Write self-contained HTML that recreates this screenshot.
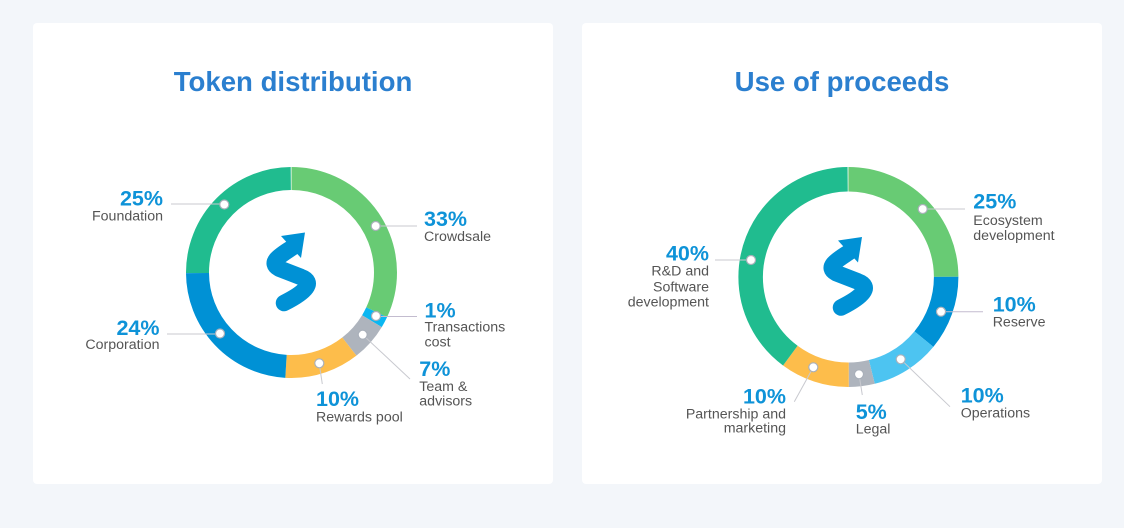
<!DOCTYPE html>
<html>
<head>
<meta charset="utf-8">
<style>
  html,body{margin:0;padding:0;background:#F3F6FA;}
  svg{display:block;}
  .ttl{font-family:"Liberation Sans",Arial,sans-serif;font-weight:bold;font-size:27.6px;fill:#2B7FCF;}
  .pct{font-family:"Liberation Sans",Arial,sans-serif;font-weight:bold;font-size:21.5px;fill:#0E93D8;}
  .lbl{font-family:"Liberation Sans",Arial,sans-serif;font-size:14.2px;fill:#555555;}
  .ln{stroke:#c8c9cf;stroke-width:1;fill:none;}
  .mk{fill:#fff;stroke:#a9b0ba;stroke-width:1.2;}
</style>
</head>
<body>
<svg width="1124" height="528" viewBox="0 0 1124 528" xmlns="http://www.w3.org/2000/svg">
  <rect x="0" y="0" width="1124" height="528" fill="#F3F6FA"/>
  <!-- cards -->
  <rect x="33" y="23" width="520" height="461" rx="4" fill="#ffffff"/>
  <rect x="582" y="23" width="520" height="461" rx="4" fill="#ffffff"/>

  <!-- titles -->
  <text class="ttl" x="293" y="91" text-anchor="middle">Token distribution</text>
  <text class="ttl" x="842" y="91" text-anchor="middle">Use of proceeds</text>

  <!-- LEFT DONUT -->
  <g transform="rotate(-90 291.5 272.5)" fill="none" stroke-width="23">
    <circle cx="291.5" cy="272.5" r="94" pathLength="100" stroke="#68CB74" stroke-dasharray="32 100" stroke-dashoffset="0"/>
    <circle cx="291.5" cy="272.5" r="94" pathLength="100" stroke="#0BB7F1" stroke-dasharray="1.7 100" stroke-dashoffset="-32"/>
    <circle cx="291.5" cy="272.5" r="94" pathLength="100" stroke="#AEB4BD" stroke-dasharray="5.8 100" stroke-dashoffset="-33.7"/>
    <circle cx="291.5" cy="272.5" r="94" pathLength="100" stroke="#FDBD4B" stroke-dasharray="11.5 100" stroke-dashoffset="-39.5"/>
    <circle cx="291.5" cy="272.5" r="94" pathLength="100" stroke="#0091D5" stroke-dasharray="24 100" stroke-dashoffset="-51"/>
    <circle cx="291.5" cy="272.5" r="94" pathLength="100" stroke="#20BC8F" stroke-dasharray="25 100" stroke-dashoffset="-75"/>
  </g>

  <!-- left logo -->
  <g>
    <path d="M293 247 C 283 254, 267 262, 279 268.5 L 301 277 C 315 282, 306 292, 284 303" fill="none" stroke="#0091D5" stroke-width="16.5" stroke-linecap="round" stroke-linejoin="round"/>
    <polygon points="281,236 305,232.5 301,258" fill="#0091D5"/>
  </g>

  <!-- left leader lines -->
  <line class="ln" x1="171" y1="204" x2="224" y2="204"/>
  <line class="ln" x1="167" y1="334" x2="220" y2="334"/>
  <line class="ln" x1="376" y1="226" x2="417" y2="226"/>
  <line class="ln" x1="376" y1="316.5" x2="417" y2="316.5" style="stroke:#c3bccf"/>
  <line class="ln" x1="362.7" y1="334.7" x2="410" y2="379"/>
  <line class="ln" x1="319.3" y1="364" x2="322.3" y2="384"/>

  <!-- left markers -->
  <circle class="mk" cx="224.3" cy="204.5" r="4.5"/>
  <circle class="mk" cx="375.7" cy="226" r="4.5"/>
  <circle class="mk" cx="376" cy="316" r="4.5"/>
  <circle class="mk" cx="362.7" cy="334.7" r="4.5"/>
  <circle class="mk" cx="319.3" cy="363.3" r="4.5"/>
  <circle class="mk" cx="220" cy="333.5" r="4.5"/>

  <!-- left labels -->
  <text class="pct" x="163" y="205.7" text-anchor="end">25%</text>
  <text class="lbl" x="163" y="220.7" text-anchor="end">Foundation</text>

  <text class="pct" x="159.5" y="335" text-anchor="end">24%</text>
  <text class="lbl" x="159.5" y="349" text-anchor="end">Corporation</text>

  <text class="pct" x="424" y="226">33%</text>
  <text class="lbl" x="424" y="241">Crowdsale</text>

  <text class="pct" x="424.5" y="317.3">1%</text>
  <text class="lbl" x="424.5" y="331.7">Transactions</text>
  <text class="lbl" x="424.5" y="346.7">cost</text>

  <text class="pct" x="419.3" y="376">7%</text>
  <text class="lbl" x="419.3" y="391">Team &amp;</text>
  <text class="lbl" x="419.3" y="405.5">advisors</text>

  <text class="pct" x="316" y="406">10%</text>
  <text class="lbl" x="316" y="421.7">Rewards pool</text>

  <!-- RIGHT DONUT -->
  <g transform="rotate(-90 848.4 277)" fill="none" stroke-width="24.5">
    <circle cx="848.4" cy="277" r="97.75" pathLength="100" stroke="#68CB74" stroke-dasharray="25 100" stroke-dashoffset="0"/>
    <circle cx="848.4" cy="277" r="97.75" pathLength="100" stroke="#0091D5" stroke-dasharray="11 100" stroke-dashoffset="-25"/>
    <circle cx="848.4" cy="277" r="97.75" pathLength="100" stroke="#4DC4F1" stroke-dasharray="10.2 100" stroke-dashoffset="-36"/>
    <circle cx="848.4" cy="277" r="97.75" pathLength="100" stroke="#AEB4BD" stroke-dasharray="3.8 100" stroke-dashoffset="-46.2"/>
    <circle cx="848.4" cy="277" r="97.75" pathLength="100" stroke="#FDBD4B" stroke-dasharray="10.2 100" stroke-dashoffset="-50"/>
    <circle cx="848.4" cy="277" r="97.75" pathLength="100" stroke="#20BC8F" stroke-dasharray="39.8 100" stroke-dashoffset="-60.2"/>
  </g>

  <!-- right logo -->
  <g transform="translate(557 4.5)">
    <path d="M293 247 C 283 254, 267 262, 279 268.5 L 301 277 C 315 282, 306 292, 284 303" fill="none" stroke="#0091D5" stroke-width="16.5" stroke-linecap="round" stroke-linejoin="round"/>
    <polygon points="281,236 305,232.5 301,258" fill="#0091D5"/>
  </g>

  <!-- right leader lines -->
  <line class="ln" x1="922.7" y1="209" x2="965" y2="209"/>
  <line class="ln" x1="941" y1="311.7" x2="983" y2="311.7" style="stroke:#c3bccf"/>
  <line class="ln" x1="900.7" y1="359.3" x2="950" y2="406.7"/>
  <line class="ln" x1="715" y1="260" x2="751" y2="260"/>
  <line class="ln" x1="813.3" y1="367.3" x2="794.3" y2="401.7"/>
  <line class="ln" x1="859" y1="374.3" x2="862.3" y2="395"/>

  <!-- right markers -->
  <circle class="mk" cx="922.7" cy="209" r="4.5"/>
  <circle class="mk" cx="941" cy="311.7" r="4.5"/>
  <circle class="mk" cx="900.7" cy="359.3" r="4.5"/>
  <circle class="mk" cx="859" cy="374.3" r="4.5"/>
  <circle class="mk" cx="813.3" cy="367.3" r="4.5"/>
  <circle class="mk" cx="751" cy="260" r="4.5"/>

  <!-- right labels -->
  <text class="pct" x="973.3" y="208.3">25%</text>
  <text class="lbl" x="973.3" y="225">Ecosystem</text>
  <text class="lbl" x="973.3" y="240">development</text>

  <text class="pct" x="992.7" y="311.7">10%</text>
  <text class="lbl" x="992.7" y="326.7">Reserve</text>

  <text class="pct" x="960.7" y="402.7">10%</text>
  <text class="lbl" x="960.7" y="417.7">Operations</text>

  <text class="pct" x="709" y="260.7" text-anchor="end">40%</text>
  <text class="lbl" x="709" y="275.7" text-anchor="end">R&amp;D and</text>
  <text class="lbl" x="709" y="291.7" text-anchor="end">Software</text>
  <text class="lbl" x="709" y="306.7" text-anchor="end">development</text>

  <text class="pct" x="786" y="403.3" text-anchor="end">10%</text>
  <text class="lbl" x="786" y="418.3" text-anchor="end">Partnership and</text>
  <text class="lbl" x="786" y="432.5" text-anchor="end">marketing</text>

  <text class="pct" x="855.7" y="419">5%</text>
  <text class="lbl" x="855.7" y="433.5">Legal</text>
</svg>
</body>
</html>
